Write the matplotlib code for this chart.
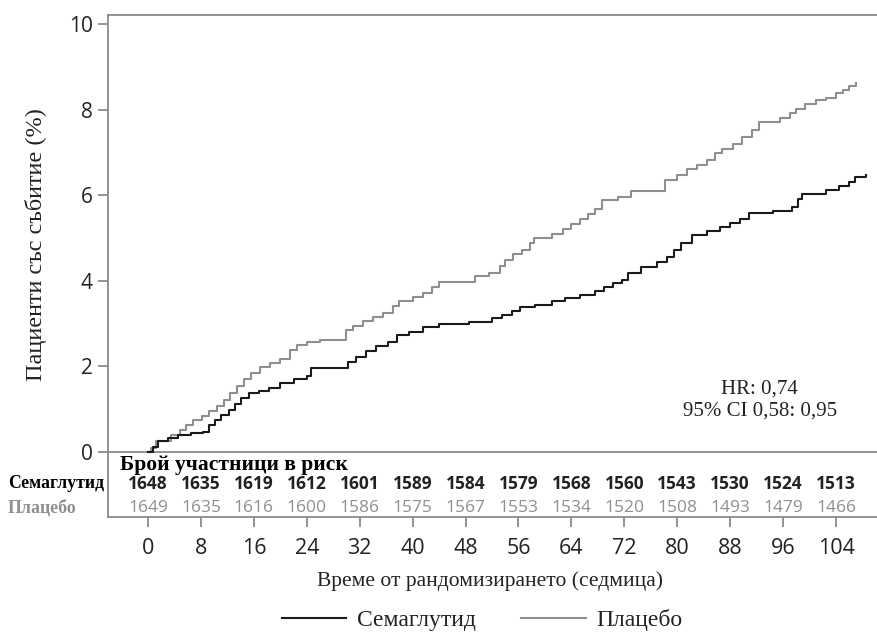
import matplotlib
matplotlib.use("Agg")
import matplotlib.pyplot as plt
from matplotlib.lines import Line2D

# ---- data ----
sema_weeks = [0, 0.8, 1.5, 3.0, 4.5, 6.5, 8.3, 9.2, 10.2, 11.0, 12.2, 13.2, 14.0, 15.2, 16.8,
              18.3, 20.0, 22.0, 24.0, 24.7, 30.3, 31.5, 33.0, 34.5, 36.3, 37.6, 39.5, 41.5,
              44.0, 48.5, 52.0, 53.5, 55.0, 56.2, 58.5, 61.0, 63.0, 65.3, 67.5, 69.0, 70.3,
              71.7, 72.5, 74.5, 77.0, 78.5, 79.5, 80.5, 82.2, 84.5, 86.5, 88.0, 89.5, 90.8,
              94.5, 97.3, 98.3, 98.8, 102.5, 104.5, 106.0, 106.8, 108.6]
sema_pct = [0, 0.12, 0.25, 0.32, 0.40, 0.44, 0.47, 0.63, 0.75, 0.86, 0.98, 1.12, 1.26, 1.37, 1.42,
            1.50, 1.60, 1.70, 1.78, 1.96, 2.10, 2.22, 2.36, 2.48, 2.58, 2.73, 2.80, 2.93,
            2.98, 3.04, 3.12, 3.20, 3.30, 3.38, 3.44, 3.52, 3.60, 3.67, 3.75, 3.85, 3.95,
            4.02, 4.17, 4.33, 4.45, 4.55, 4.72, 4.88, 5.07, 5.17, 5.26, 5.34, 5.45, 5.58,
            5.64, 5.73, 5.90, 6.02, 6.12, 6.22, 6.30, 6.43, 6.47]

plac_weeks = [0, 0.5, 1.2, 3.4, 4.8, 5.8, 6.8, 8.2, 9.2, 10.5, 11.5, 12.4, 13.5, 14.5, 15.5,
              17.0, 18.5, 20.0, 21.5, 22.5, 24.0, 26.0, 30.0, 31.0, 32.5, 34.0, 35.5, 37.0,
              38.0, 40.0, 41.5, 43.0, 44.0, 49.5, 51.5, 53.2, 54.0, 55.2, 56.5, 57.7, 58.3,
              61.0, 62.8, 64.0, 65.3, 66.5, 67.5, 68.6, 71.0, 73.0, 78.2, 80.0, 81.5, 83.0,
              84.5, 85.7, 86.8, 88.5, 89.8, 91.3, 92.4, 95.5, 97.0, 98.0, 99.3, 101.0, 102.5,
              104.0, 105.0, 106.0, 107.1]
plac_pct = [0, 0.10, 0.26, 0.40, 0.52, 0.62, 0.75, 0.85, 0.95, 1.08, 1.22, 1.37, 1.55, 1.70, 1.84,
            1.98, 2.08, 2.18, 2.38, 2.50, 2.58, 2.62, 2.85, 2.95, 3.05, 3.15, 3.25, 3.40,
            3.52, 3.62, 3.72, 3.85, 3.96, 4.10, 4.18, 4.35, 4.48, 4.62, 4.72, 4.88, 5.00,
            5.10, 5.22, 5.32, 5.45, 5.55, 5.68, 5.88, 5.95, 6.10, 6.35, 6.48, 6.60, 6.70,
            6.82, 6.98, 7.08, 7.20, 7.35, 7.52, 7.72, 7.80, 7.92, 8.02, 8.14, 8.22, 8.28,
            8.38, 8.46, 8.55, 8.63]

risk_weeks = [0, 8, 16, 24, 32, 40, 48, 56, 64, 72, 80, 88, 96, 104]
risk_sema = [1648, 1635, 1619, 1612, 1601, 1589, 1584, 1579, 1568, 1560, 1543, 1530, 1524, 1513]
risk_plac = [1649, 1635, 1616, 1600, 1586, 1575, 1567, 1553, 1534, 1520, 1508, 1493, 1479, 1466]

y_ticks = [0, 2, 4, 6, 8, 10]

DARK = "#1a1a1a"
GRAY = "#8f8f8f"
SPINE = "#8a8a8a"
SERIF = "Liberation Serif"
SANS = "Open Sans"

fig = plt.figure(figsize=(8.77, 6.34), dpi=100)
ax = fig.add_axes([108/877, 1 - 517/634, 1 - 108/877, (517 - 15)/634])

ax.plot(sema_weeks, sema_pct, drawstyle="steps-post", color=DARK, lw=1.5, zorder=3)
ax.plot(plac_weeks, plac_pct, drawstyle="steps-post", color=GRAY, lw=1.5, zorder=2)

ax.set_xlim(-6.05, 110.2)
ax.set_ylim(-1.52, 10.21)

for s in ["left", "top", "bottom"]:
    ax.spines[s].set_color(SPINE)
    ax.spines[s].set_linewidth(1.3)
ax.spines["right"].set_visible(False)
ax.axhline(0, color=SPINE, lw=1.3, zorder=1)

ax.set_yticks(y_ticks)
ax.set_yticklabels([str(t) for t in y_ticks], fontfamily=SANS, fontsize=15)
ax.set_xticks(risk_weeks)
ax.set_xticklabels([str(t) for t in risk_weeks], fontfamily=SANS, fontsize=15.5)
ax.tick_params(axis="both", colors=SPINE, labelcolor="#222222", length=7, width=1.3)
ax.tick_params(axis="x", pad=8)
ax.tick_params(axis="y", pad=4)

# risk table
ax.text(-4.2, -0.30, "Брой участници в риск", fontfamily=SERIF, fontweight="bold",
        fontsize=15.5, color="black", ha="left", va="center")
for w, s, p in zip(risk_weeks, risk_sema, risk_plac):
    ax.text(w, -0.75, str(s), fontfamily=SANS, fontweight="bold", fontsize=12.5,
            color="#222222", ha="center", va="center")
    ax.text(w, -1.31, str(p), fontfamily=SANS, fontsize=12.5,
            color=GRAY, ha="center", va="center")
fig.text(8/877, 1 - 484/634, "Семаглутид", fontfamily=SERIF, fontweight="bold", fontsize=12.8,
         color="black", ha="left", va="center")
fig.text(8/877, 1 - 508/634, "Плацебо", fontfamily=SERIF, fontweight="bold", fontsize=12.8,
         color=GRAY, ha="left", va="center")

# HR annotation
ax.text(92.5, 1.21, "HR: 0,74\n95% CI 0,58: 0,95", fontfamily=SERIF, fontsize=15,
        color="#222222", ha="center", va="center", linespacing=1.2)

# labels
fig.text(36/877, 1 - 245/634, "Пациенти със събитие (%)", fontfamily=SERIF, fontsize=17.5,
         rotation=90, ha="center", va="center", color="#222222")
fig.text(490/877, 1 - 581/634, "Време от рандомизирането (седмица)", fontfamily=SERIF,
         fontsize=15.5, ha="center", va="center", color="#222222")

handles = [Line2D([], [], color=DARK, lw=1.5), Line2D([], [], color=GRAY, lw=1.5)]
leg = fig.legend(handles, ["Семаглутид", "Плацебо"], loc="center",
                 bbox_to_anchor=(482/877, 1 - 620/634), ncol=2, frameon=False,
                 prop={"family": SERIF, "size": 17}, handlelength=2.75,
                 columnspacing=1.9, handletextpad=0.45)
for t in leg.get_texts():
    t.set_color("#222222")

fig.savefig("out.png", dpi=100)
